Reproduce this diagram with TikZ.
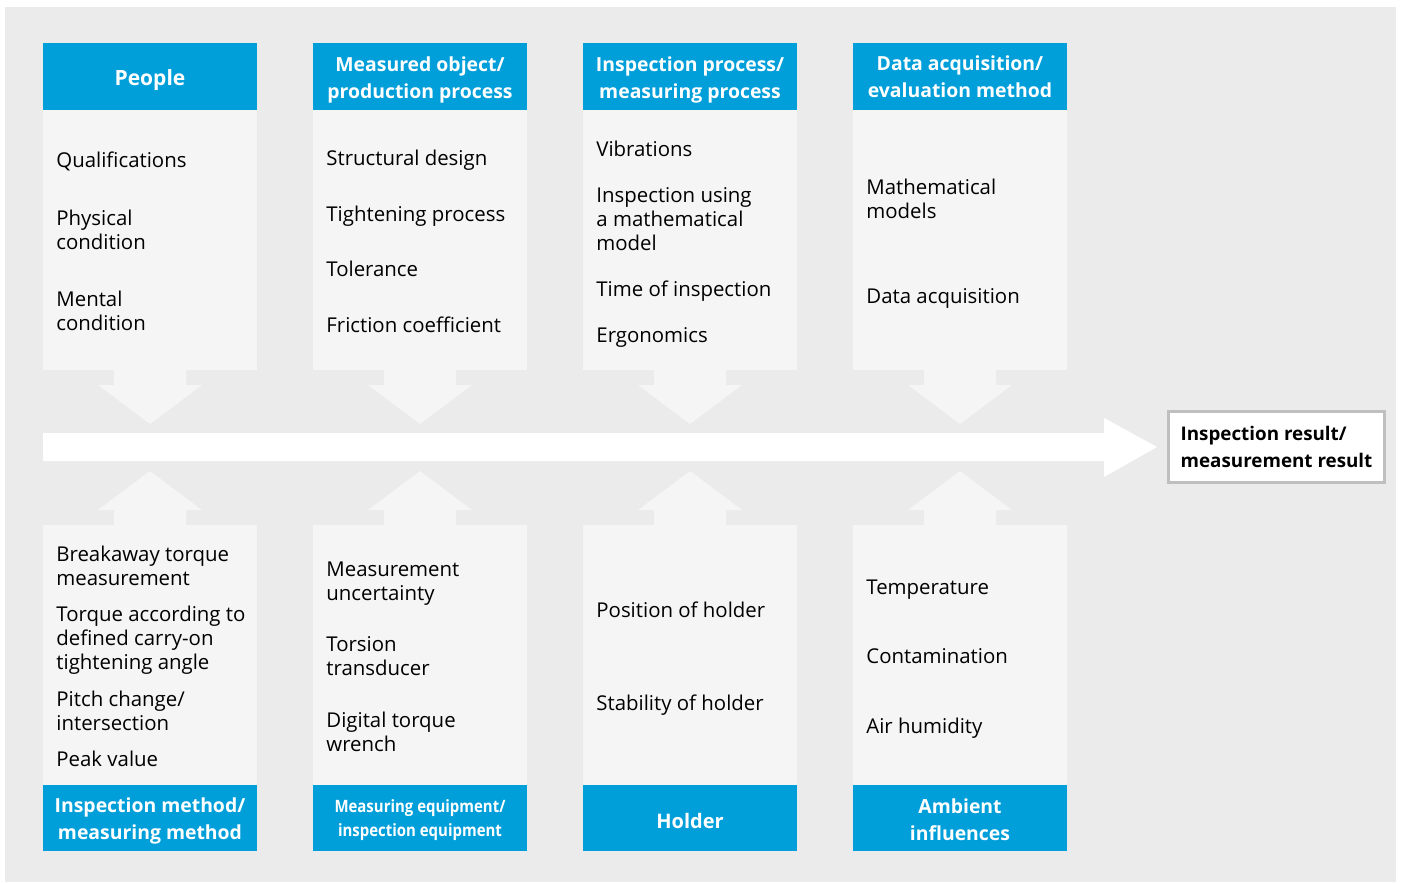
\documentclass[tikz,border=0pt]{standalone}
\usepackage{fontspec}
\setmainfont{Open Sans}
\newfontfamily\condfont[FakeStretch=0.88]{Open Sans}
\definecolor{hblue}{RGB}{0,159,218}
\definecolor{panelgray}{RGB}{245,245,245}
\definecolor{backgray}{RGB}{235,235,235}
\definecolor{framegray}{RGB}{191,191,191}

\begin{document}
\begin{tikzpicture}[x=0.5pt, y=-0.5pt,
	head/.style={text=white, align=center, inner sep=0pt,
		font=\bfseries\fontsize{9.7}{13.5}\selectfont},
	item/.style={anchor=base west, align=left, inner sep=0pt,
		font=\fontsize{10.2}{12}\selectfont}]
	\useasboundingbox (0,0) rectangle (1401,883);
	\fill[backgray] (5,7) rectangle (1396,882);

	% panels with arrows towards the middle
	\foreach \x in {43,313,583,853} {
		\fill[hblue] (\x,43) rectangle (\x+214,110);
		\fill[panelgray] (\x,110) rectangle (\x+214,370);
		\fill[panelgray] (\x+71,370) -- ++(72,0) -- ++(0,15) -- ++(16,0)
			-- (\x+107,424) -- (\x+55,385) -- ++(16,0) -- cycle;
		\fill[panelgray] (\x,525) rectangle (\x+214,785);
		\fill[panelgray] (\x+71,525) -- ++(72,0) -- ++(0,-15) -- ++(16,0)
			-- (\x+107,471) -- (\x+55,510) -- ++(16,0) -- cycle;
		\fill[hblue] (\x,785) rectangle (\x+214,851);
	}

	% main arrow
	\fill[white] (43,433) -- (1104,433) -- (1104,418) -- (1157,447)
		-- (1104,477) -- (1104,461) -- (43,461) -- cycle;

	% headers
	\node[head, font=\bfseries\fontsize{10.5}{13.5}\selectfont] (people) at (150,80) {People};
	\node[head] (object) at (420,79.5) {Measured object/\\production process};
	\node[head] (process) at (690,79.5) {Inspection process/\\measuring process};
	\node[head] (data) at (960,77) {Data acquisition/\\evaluation method};
	\node[head] (method) at (150,821) {Inspection method/\\measuring method};
	\node[head, font=\condfont\bfseries\fontsize{8.5}{12}\selectfont] (equipment) at (420,820)
		{Measuring equipment/\\inspection equipment};
	\node[head, font=\bfseries\fontsize{10}{13.5}\selectfont] (holder) at (690,821) {Holder};
	\node[head] (ambient) at (960,820) {Ambient\\influences};

	% result
	\node[draw=framegray, line width=1.5pt, fill=white, align=left,
		minimum width=108pt, minimum height=35.5pt,
		font=\bfseries\fontsize{9.4}{13.5}\selectfont] (result) at (1276.5,447)
		{Inspection result/\\measurement result};

	% items (base = last line)
	\node[item] (qualif) at (56,167) {Qualifications};
	\node[item] (physical) at (56,249) {Physical\\condition};
	\node[item] (mental) at (56,330) {Mental\\condition};

	\node[item] (design) at (326,165) {Structural design};
	\node[item] (tightening) at (326,221) {Tightening process};
	\node[item] (tolerance) at (326,276) {Tolerance};
	\node[item] (friction) at (326,332) {Friction coefficient};

	\node[item] (vibrations) at (596,156) {Vibrations};
	\node[item] (mathinsp) at (596,250) {Inspection using\\a mathematical\\model};
	\node[item] (time) at (596,296) {Time of inspection};
	\node[item] (ergonomics) at (596,342) {Ergonomics};

	\node[item] (models) at (866,218) {Mathematical\\models};
	\node[item] (acquisition) at (866,303) {Data acquisition};

	\node[item] (breakaway) at (56,585) {Breakaway torque\\measurement};
	\node[item] (torque) at (56,669) {Torque according to\\defined carry-on\\tightening angle};
	\node[item] (pitch) at (56,730) {Pitch change/\\intersection};
	\node[item] (peak) at (56,766) {Peak value};

	\node[item] (uncertainty) at (326,600) {Measurement\\uncertainty};
	\node[item] (torsion) at (326,675) {Torsion\\transducer};
	\node[item] (wrench) at (326,751) {Digital torque\\wrench};

	\node[item] (position) at (596,617) {Position of holder};
	\node[item] (stability) at (596,710) {Stability of holder};

	\node[item] (temperature) at (866,594) {Temperature};
	\node[item] (contamination) at (866,663) {Contamination};
	\node[item] (humidity) at (866,733) {Air humidity};
\end{tikzpicture}
\end{document}
